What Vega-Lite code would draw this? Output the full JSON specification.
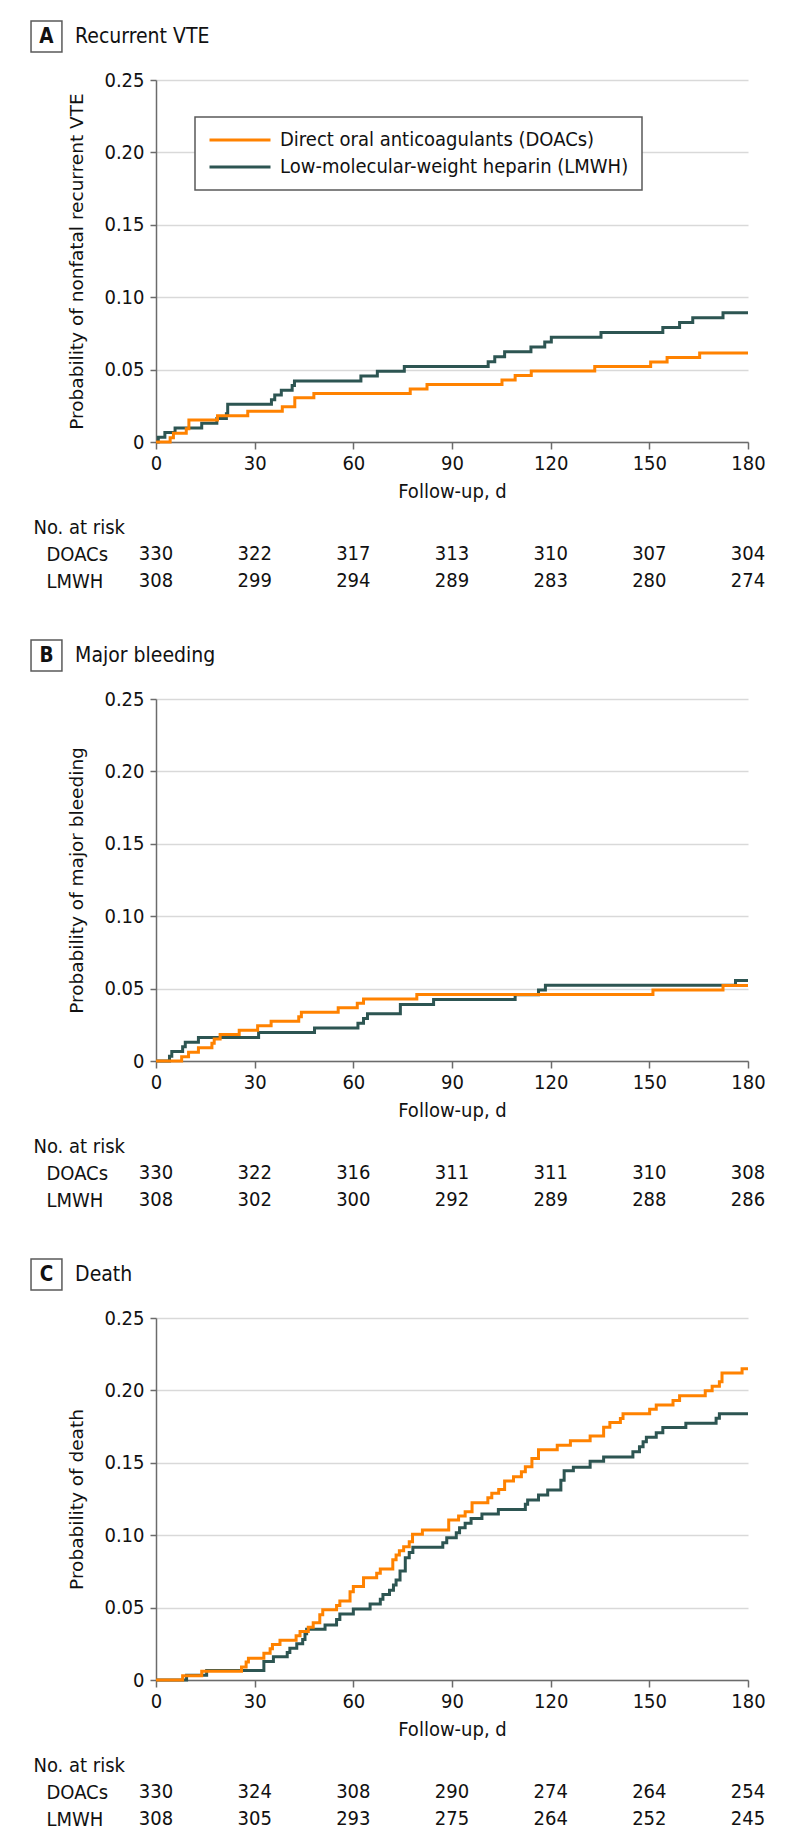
{
  "$schema": "https://vega.github.io/schema/vega-lite/v6.json",
  "background": "white",
  "padding": {"left": 30, "top": 20, "right": 10, "bottom": 10},
  "datasets": {
    "headers": [
      {"panel": "A", "letter": "A", "title": "Recurrent VTE"},
      {"panel": "B", "letter": "B", "title": "Major bleeding"},
      {"panel": "C", "letter": "C", "title": "Death"}
    ],
    "risk": [
      {"panel": "A", "group": "DOACs", "day": 0, "n": 330}, {"panel": "A", "group": "DOACs", "day": 30, "n": 322}, {"panel": "A", "group": "DOACs", "day": 60, "n": 317}, {"panel": "A", "group": "DOACs", "day": 90, "n": 313}, {"panel": "A", "group": "DOACs", "day": 120, "n": 310}, {"panel": "A", "group": "DOACs", "day": 150, "n": 307}, {"panel": "A", "group": "DOACs", "day": 180, "n": 304},
      {"panel": "A", "group": "LMWH", "day": 0, "n": 308}, {"panel": "A", "group": "LMWH", "day": 30, "n": 299}, {"panel": "A", "group": "LMWH", "day": 60, "n": 294}, {"panel": "A", "group": "LMWH", "day": 90, "n": 289}, {"panel": "A", "group": "LMWH", "day": 120, "n": 283}, {"panel": "A", "group": "LMWH", "day": 150, "n": 280}, {"panel": "A", "group": "LMWH", "day": 180, "n": 274},
      {"panel": "B", "group": "DOACs", "day": 0, "n": 330}, {"panel": "B", "group": "DOACs", "day": 30, "n": 322}, {"panel": "B", "group": "DOACs", "day": 60, "n": 316}, {"panel": "B", "group": "DOACs", "day": 90, "n": 311}, {"panel": "B", "group": "DOACs", "day": 120, "n": 311}, {"panel": "B", "group": "DOACs", "day": 150, "n": 310}, {"panel": "B", "group": "DOACs", "day": 180, "n": 308},
      {"panel": "B", "group": "LMWH", "day": 0, "n": 308}, {"panel": "B", "group": "LMWH", "day": 30, "n": 302}, {"panel": "B", "group": "LMWH", "day": 60, "n": 300}, {"panel": "B", "group": "LMWH", "day": 90, "n": 292}, {"panel": "B", "group": "LMWH", "day": 120, "n": 289}, {"panel": "B", "group": "LMWH", "day": 150, "n": 288}, {"panel": "B", "group": "LMWH", "day": 180, "n": 286},
      {"panel": "C", "group": "DOACs", "day": 0, "n": 330}, {"panel": "C", "group": "DOACs", "day": 30, "n": 324}, {"panel": "C", "group": "DOACs", "day": 60, "n": 308}, {"panel": "C", "group": "DOACs", "day": 90, "n": 290}, {"panel": "C", "group": "DOACs", "day": 120, "n": 274}, {"panel": "C", "group": "DOACs", "day": 150, "n": 264}, {"panel": "C", "group": "DOACs", "day": 180, "n": 254},
      {"panel": "C", "group": "LMWH", "day": 0, "n": 308}, {"panel": "C", "group": "LMWH", "day": 30, "n": 305}, {"panel": "C", "group": "LMWH", "day": 60, "n": 293}, {"panel": "C", "group": "LMWH", "day": 90, "n": 275}, {"panel": "C", "group": "LMWH", "day": 120, "n": 264}, {"panel": "C", "group": "LMWH", "day": 150, "n": 252}, {"panel": "C", "group": "LMWH", "day": 180, "n": 245}
    ],
    "km": [
      {"panel": "A", "group": "LMWH", "day": 0, "p": 0}, {"panel": "A", "group": "LMWH", "day": 0.7, "p": 0.0032}, {"panel": "A", "group": "LMWH", "day": 2.7, "p": 0.0065}, {"panel": "A", "group": "LMWH", "day": 5.8, "p": 0.0097}, {"panel": "A", "group": "LMWH", "day": 13.9, "p": 0.013}, {"panel": "A", "group": "LMWH", "day": 18.5, "p": 0.0162}, {"panel": "A", "group": "LMWH", "day": 21.4, "p": 0.0195}, {"panel": "A", "group": "LMWH", "day": 21.8, "p": 0.026}, {"panel": "A", "group": "LMWH", "day": 35.1, "p": 0.0292}, {"panel": "A", "group": "LMWH", "day": 36.1, "p": 0.0325}, {"panel": "A", "group": "LMWH", "day": 38.1, "p": 0.0357}, {"panel": "A", "group": "LMWH", "day": 41.4, "p": 0.039}, {"panel": "A", "group": "LMWH", "day": 42.1, "p": 0.0422}, {"panel": "A", "group": "LMWH", "day": 62.3, "p": 0.0455}, {"panel": "A", "group": "LMWH", "day": 67.3, "p": 0.0488}, {"panel": "A", "group": "LMWH", "day": 75.5, "p": 0.0522}, {"panel": "A", "group": "LMWH", "day": 101, "p": 0.0555}, {"panel": "A", "group": "LMWH", "day": 103, "p": 0.0589}, {"panel": "A", "group": "LMWH", "day": 106, "p": 0.0623}, {"panel": "A", "group": "LMWH", "day": 114, "p": 0.0656}, {"panel": "A", "group": "LMWH", "day": 118.2, "p": 0.069}, {"panel": "A", "group": "LMWH", "day": 120.2, "p": 0.0723}, {"panel": "A", "group": "LMWH", "day": 135.3, "p": 0.0757}, {"panel": "A", "group": "LMWH", "day": 154.1, "p": 0.0791}, {"panel": "A", "group": "LMWH", "day": 159.2, "p": 0.0825}, {"panel": "A", "group": "LMWH", "day": 163.2, "p": 0.0858}, {"panel": "A", "group": "LMWH", "day": 172.4, "p": 0.0892}, {"panel": "A", "group": "LMWH", "day": 180, "p": 0.0892},
      {"panel": "A", "group": "DOACs", "day": 0, "p": 0}, {"panel": "A", "group": "DOACs", "day": 4.3, "p": 0.003}, {"panel": "A", "group": "DOACs", "day": 5.3, "p": 0.0061}, {"panel": "A", "group": "DOACs", "day": 9.2, "p": 0.0091}, {"panel": "A", "group": "DOACs", "day": 10, "p": 0.0152}, {"panel": "A", "group": "DOACs", "day": 18.7, "p": 0.0182}, {"panel": "A", "group": "DOACs", "day": 27.9, "p": 0.0213}, {"panel": "A", "group": "DOACs", "day": 38.4, "p": 0.0244}, {"panel": "A", "group": "DOACs", "day": 42.2, "p": 0.0305}, {"panel": "A", "group": "DOACs", "day": 48, "p": 0.0335}, {"panel": "A", "group": "DOACs", "day": 77.3, "p": 0.0366}, {"panel": "A", "group": "DOACs", "day": 82.4, "p": 0.0397}, {"panel": "A", "group": "DOACs", "day": 105.2, "p": 0.0428}, {"panel": "A", "group": "DOACs", "day": 109.2, "p": 0.0459}, {"panel": "A", "group": "DOACs", "day": 114.1, "p": 0.049}, {"panel": "A", "group": "DOACs", "day": 133.4, "p": 0.0521}, {"panel": "A", "group": "DOACs", "day": 150.4, "p": 0.0552}, {"panel": "A", "group": "DOACs", "day": 155.4, "p": 0.0583}, {"panel": "A", "group": "DOACs", "day": 165.3, "p": 0.0614}, {"panel": "A", "group": "DOACs", "day": 180, "p": 0.0614},
      {"panel": "B", "group": "LMWH", "day": 0, "p": 0}, {"panel": "B", "group": "LMWH", "day": 4.1, "p": 0.0033}, {"panel": "B", "group": "LMWH", "day": 4.8, "p": 0.0065}, {"panel": "B", "group": "LMWH", "day": 8.1, "p": 0.0098}, {"panel": "B", "group": "LMWH", "day": 8.9, "p": 0.013}, {"panel": "B", "group": "LMWH", "day": 12.9, "p": 0.0163}, {"panel": "B", "group": "LMWH", "day": 31.2, "p": 0.0196}, {"panel": "B", "group": "LMWH", "day": 48.2, "p": 0.0228}, {"panel": "B", "group": "LMWH", "day": 61.4, "p": 0.0261}, {"panel": "B", "group": "LMWH", "day": 63.1, "p": 0.0294}, {"panel": "B", "group": "LMWH", "day": 64.3, "p": 0.0326}, {"panel": "B", "group": "LMWH", "day": 74.3, "p": 0.0391}, {"panel": "B", "group": "LMWH", "day": 84.4, "p": 0.0424}, {"panel": "B", "group": "LMWH", "day": 109.2, "p": 0.0457}, {"panel": "B", "group": "LMWH", "day": 116.3, "p": 0.049}, {"panel": "B", "group": "LMWH", "day": 118.4, "p": 0.0523}, {"panel": "B", "group": "LMWH", "day": 176.2, "p": 0.0556}, {"panel": "B", "group": "LMWH", "day": 180, "p": 0.0556},
      {"panel": "B", "group": "DOACs", "day": 0, "p": 0}, {"panel": "B", "group": "DOACs", "day": 7.8, "p": 0.003}, {"panel": "B", "group": "DOACs", "day": 9.9, "p": 0.0061}, {"panel": "B", "group": "DOACs", "day": 12.9, "p": 0.0091}, {"panel": "B", "group": "DOACs", "day": 17.0, "p": 0.0122}, {"panel": "B", "group": "DOACs", "day": 17.7, "p": 0.0152}, {"panel": "B", "group": "DOACs", "day": 19.5, "p": 0.0183}, {"panel": "B", "group": "DOACs", "day": 25.3, "p": 0.0213}, {"panel": "B", "group": "DOACs", "day": 30.9, "p": 0.0244}, {"panel": "B", "group": "DOACs", "day": 35.0, "p": 0.0275}, {"panel": "B", "group": "DOACs", "day": 43.4, "p": 0.0305}, {"panel": "B", "group": "DOACs", "day": 44.2, "p": 0.0336}, {"panel": "B", "group": "DOACs", "day": 55.4, "p": 0.0367}, {"panel": "B", "group": "DOACs", "day": 61.2, "p": 0.0398}, {"panel": "B", "group": "DOACs", "day": 63.1, "p": 0.0428}, {"panel": "B", "group": "DOACs", "day": 79.3, "p": 0.0459}, {"panel": "B", "group": "DOACs", "day": 151.1, "p": 0.049}, {"panel": "B", "group": "DOACs", "day": 172.4, "p": 0.0521}, {"panel": "B", "group": "DOACs", "day": 180, "p": 0.0521},
      {"panel": "C", "group": "LMWH", "day": 0, "p": 0}, {"panel": "C", "group": "LMWH", "day": 9.3, "p": 0.0032}, {"panel": "C", "group": "LMWH", "day": 15.4, "p": 0.0065}, {"panel": "C", "group": "LMWH", "day": 32.8, "p": 0.0127}, {"panel": "C", "group": "LMWH", "day": 35.7, "p": 0.016}, {"panel": "C", "group": "LMWH", "day": 39.9, "p": 0.019}, {"panel": "C", "group": "LMWH", "day": 40.7, "p": 0.022}, {"panel": "C", "group": "LMWH", "day": 42.8, "p": 0.025}, {"panel": "C", "group": "LMWH", "day": 44.6, "p": 0.028}, {"panel": "C", "group": "LMWH", "day": 45.3, "p": 0.032}, {"panel": "C", "group": "LMWH", "day": 45.8, "p": 0.035}, {"panel": "C", "group": "LMWH", "day": 51.4, "p": 0.038}, {"panel": "C", "group": "LMWH", "day": 54.9, "p": 0.0417}, {"panel": "C", "group": "LMWH", "day": 55.9, "p": 0.0455}, {"panel": "C", "group": "LMWH", "day": 60.0, "p": 0.049}, {"panel": "C", "group": "LMWH", "day": 65.1, "p": 0.0525}, {"panel": "C", "group": "LMWH", "day": 68.2, "p": 0.0557}, {"panel": "C", "group": "LMWH", "day": 69.0, "p": 0.059}, {"panel": "C", "group": "LMWH", "day": 71.0, "p": 0.062}, {"panel": "C", "group": "LMWH", "day": 72.2, "p": 0.0656}, {"panel": "C", "group": "LMWH", "day": 73.0, "p": 0.069}, {"panel": "C", "group": "LMWH", "day": 74.2, "p": 0.0753}, {"panel": "C", "group": "LMWH", "day": 75.8, "p": 0.0845}, {"panel": "C", "group": "LMWH", "day": 77.0, "p": 0.088}, {"panel": "C", "group": "LMWH", "day": 78.1, "p": 0.0916}, {"panel": "C", "group": "LMWH", "day": 87.2, "p": 0.0948}, {"panel": "C", "group": "LMWH", "day": 88.4, "p": 0.0983}, {"panel": "C", "group": "LMWH", "day": 91.3, "p": 0.1017}, {"panel": "C", "group": "LMWH", "day": 92.3, "p": 0.1052}, {"panel": "C", "group": "LMWH", "day": 94.0, "p": 0.1082}, {"panel": "C", "group": "LMWH", "day": 95.8, "p": 0.1116}, {"panel": "C", "group": "LMWH", "day": 99.1, "p": 0.1146}, {"panel": "C", "group": "LMWH", "day": 104.1, "p": 0.1178}, {"panel": "C", "group": "LMWH", "day": 112.3, "p": 0.1213}, {"panel": "C", "group": "LMWH", "day": 113.0, "p": 0.1243}, {"panel": "C", "group": "LMWH", "day": 116.3, "p": 0.1277}, {"panel": "C", "group": "LMWH", "day": 119.1, "p": 0.1312}, {"panel": "C", "group": "LMWH", "day": 123.1, "p": 0.138}, {"panel": "C", "group": "LMWH", "day": 124.1, "p": 0.1445}, {"panel": "C", "group": "LMWH", "day": 126.9, "p": 0.147}, {"panel": "C", "group": "LMWH", "day": 132.0, "p": 0.151}, {"panel": "C", "group": "LMWH", "day": 136.1, "p": 0.154}, {"panel": "C", "group": "LMWH", "day": 145.0, "p": 0.1576}, {"panel": "C", "group": "LMWH", "day": 147.0, "p": 0.161}, {"panel": "C", "group": "LMWH", "day": 148.1, "p": 0.1646}, {"panel": "C", "group": "LMWH", "day": 149.1, "p": 0.1676}, {"panel": "C", "group": "LMWH", "day": 152.1, "p": 0.1708}, {"panel": "C", "group": "LMWH", "day": 154.1, "p": 0.1743}, {"panel": "C", "group": "LMWH", "day": 161.1, "p": 0.1773}, {"panel": "C", "group": "LMWH", "day": 170.3, "p": 0.1808}, {"panel": "C", "group": "LMWH", "day": 171.3, "p": 0.1838}, {"panel": "C", "group": "LMWH", "day": 180, "p": 0.1838},
      {"panel": "C", "group": "DOACs", "day": 0, "p": 0}, {"panel": "C", "group": "DOACs", "day": 8.1, "p": 0.003}, {"panel": "C", "group": "DOACs", "day": 13.9, "p": 0.006}, {"panel": "C", "group": "DOACs", "day": 26.0, "p": 0.009}, {"panel": "C", "group": "DOACs", "day": 27.4, "p": 0.0125}, {"panel": "C", "group": "DOACs", "day": 28.1, "p": 0.015}, {"panel": "C", "group": "DOACs", "day": 32.8, "p": 0.0185}, {"panel": "C", "group": "DOACs", "day": 34.7, "p": 0.0215}, {"panel": "C", "group": "DOACs", "day": 35.4, "p": 0.0245}, {"panel": "C", "group": "DOACs", "day": 37.7, "p": 0.0275}, {"panel": "C", "group": "DOACs", "day": 42.6, "p": 0.0305}, {"panel": "C", "group": "DOACs", "day": 43.8, "p": 0.0335}, {"panel": "C", "group": "DOACs", "day": 46.3, "p": 0.0365}, {"panel": "C", "group": "DOACs", "day": 47.8, "p": 0.0395}, {"panel": "C", "group": "DOACs", "day": 49.8, "p": 0.045}, {"panel": "C", "group": "DOACs", "day": 50.7, "p": 0.0485}, {"panel": "C", "group": "DOACs", "day": 54.9, "p": 0.0515}, {"panel": "C", "group": "DOACs", "day": 55.9, "p": 0.0545}, {"panel": "C", "group": "DOACs", "day": 59.0, "p": 0.061}, {"panel": "C", "group": "DOACs", "day": 60.0, "p": 0.0645}, {"panel": "C", "group": "DOACs", "day": 63.1, "p": 0.0707}, {"panel": "C", "group": "DOACs", "day": 67.1, "p": 0.0737}, {"panel": "C", "group": "DOACs", "day": 68.2, "p": 0.0767}, {"panel": "C", "group": "DOACs", "day": 72.0, "p": 0.083}, {"panel": "C", "group": "DOACs", "day": 73.0, "p": 0.0863}, {"panel": "C", "group": "DOACs", "day": 74.0, "p": 0.0893}, {"panel": "C", "group": "DOACs", "day": 75.3, "p": 0.092}, {"panel": "C", "group": "DOACs", "day": 77.0, "p": 0.0955}, {"panel": "C", "group": "DOACs", "day": 78.0, "p": 0.1006}, {"panel": "C", "group": "DOACs", "day": 81.0, "p": 0.1036}, {"panel": "C", "group": "DOACs", "day": 89.0, "p": 0.1105}, {"panel": "C", "group": "DOACs", "day": 92.0, "p": 0.1132}, {"panel": "C", "group": "DOACs", "day": 94.0, "p": 0.1162}, {"panel": "C", "group": "DOACs", "day": 96.1, "p": 0.1224}, {"panel": "C", "group": "DOACs", "day": 100.9, "p": 0.1259}, {"panel": "C", "group": "DOACs", "day": 102.1, "p": 0.1289}, {"panel": "C", "group": "DOACs", "day": 104.2, "p": 0.1316}, {"panel": "C", "group": "DOACs", "day": 106.0, "p": 0.1374}, {"panel": "C", "group": "DOACs", "day": 108.7, "p": 0.1404}, {"panel": "C", "group": "DOACs", "day": 111.1, "p": 0.1438}, {"panel": "C", "group": "DOACs", "day": 112.3, "p": 0.1472}, {"panel": "C", "group": "DOACs", "day": 114.3, "p": 0.153}, {"panel": "C", "group": "DOACs", "day": 116.3, "p": 0.159}, {"panel": "C", "group": "DOACs", "day": 122.0, "p": 0.1622}, {"panel": "C", "group": "DOACs", "day": 126.0, "p": 0.1653}, {"panel": "C", "group": "DOACs", "day": 132.0, "p": 0.1685}, {"panel": "C", "group": "DOACs", "day": 136.1, "p": 0.1745}, {"panel": "C", "group": "DOACs", "day": 138.0, "p": 0.1778}, {"panel": "C", "group": "DOACs", "day": 141.2, "p": 0.1806}, {"panel": "C", "group": "DOACs", "day": 142.0, "p": 0.1838}, {"panel": "C", "group": "DOACs", "day": 150.1, "p": 0.187}, {"panel": "C", "group": "DOACs", "day": 152.1, "p": 0.19}, {"panel": "C", "group": "DOACs", "day": 157.2, "p": 0.193}, {"panel": "C", "group": "DOACs", "day": 159.2, "p": 0.1963}, {"panel": "C", "group": "DOACs", "day": 167.0, "p": 0.1998}, {"panel": "C", "group": "DOACs", "day": 169.1, "p": 0.2028}, {"panel": "C", "group": "DOACs", "day": 171.3, "p": 0.206}, {"panel": "C", "group": "DOACs", "day": 172.1, "p": 0.212}, {"panel": "C", "group": "DOACs", "day": 178.2, "p": 0.215}, {"panel": "C", "group": "DOACs", "day": 180, "p": 0.215}
    ]
  },
  "bounds": "flush",
  "spacing": 112,
  "resolve": {"scale": {"color": "independent"}, "legend": {"color": "independent"}},
  "vconcat": [
    {
      "width": 592,
      "height": 362,
      "layer": [
        {
          "data": {"name": "km"},
          "transform": [{"filter": "datum.panel === 'A'"}],
          "mark": {"type": "line", "interpolate": "step-after", "strokeWidth": 3},
          "encoding": {
            "x": {"field": "day", "type": "quantitative", "scale": {"domain": [0, 180], "nice": false}, "axis": {"values": [0, 30, 60, 90, 120, 150, 180], "title": "Follow-up, d", "tickSize": 7, "labelPadding": 4, "titlePadding": 8, "grid": false, "labelFlush": false}},
            "y": {"field": "p", "type": "quantitative", "scale": {"domain": [0, 0.25], "nice": false}, "axis": {"values": [0, 0.05, 0.1, 0.15, 0.2, 0.25], "labelExpr": "datum.value === 0 ? '0' : format(datum.value, '.2f')", "title": "Probability of nonfatal recurrent VTE", "titleFont": "DejaVu Sans", "titleFontSize": 18.5, "titleX": -80, "titleY": 181, "titleAngle": -90, "titleAlign": "center", "titleBaseline": "middle", "tickSize": 6, "labelPadding": 6, "grid": true, "gridColor": "#d9d9d9", "gridWidth": 1.5, "labelFlush": false}},
            "color": {"field": "group", "type": "nominal", "scale": {"domain": ["DOACs", "LMWH"], "range": ["#ff8200", "#2d5552"]}, "legend": {"orient": "none", "legendX": 39, "legendY": 37, "title": null, "symbolType": "stroke", "symbolSize": 3721, "symbolStrokeWidth": 3, "clipHeight": 20, "rowPadding": 7, "labelFontSize": 20, "labelColor": "#111", "labelOffset": 8, "padding": 13, "strokeColor": "#5a5a5a", "fillColor": "#ffffff", "labelLimit": 600, "labelExpr": "datum.label === 'DOACs' ? 'Direct oral anticoagulants (DOACs)' : 'Low-molecular-weight heparin (LMWH)'"}}
          }
        },
        {
          "data": {"name": "headers"},
          "transform": [{"filter": "datum.panel === 'A'"}],
          "mark": {"type": "rect", "fill": "#ffffff", "stroke": "#5a5a5a", "strokeWidth": 1.5},
          "encoding": {
            "x": {"datum": -38.0, "type": "quantitative", "scale": {"domain": [0, 180], "nice": false}},
            "x2": {"datum": -28.6},
            "y": {"datum": 0.2907, "type": "quantitative", "scale": {"domain": [0, 0.25], "nice": false}},
            "y2": {"datum": 0.2693}
          }
        },
        {
          "data": {"name": "headers"},
          "transform": [{"filter": "datum.panel === 'A'"}],
          "mark": {"type": "text", "fontSize": 20.5, "fontWeight": "bold", "align": "center", "baseline": "middle", "color": "#111"},
          "encoding": {
            "x": {"datum": -33.3, "type": "quantitative", "scale": {"domain": [0, 180], "nice": false}},
            "y": {"datum": 0.28, "type": "quantitative", "scale": {"domain": [0, 0.25], "nice": false}},
            "text": {"field": "letter"}
          }
        },
        {
          "data": {"name": "headers"},
          "transform": [{"filter": "datum.panel === 'A'"}],
          "mark": {"type": "text", "fontSize": 21, "align": "left", "baseline": "middle", "color": "#111"},
          "encoding": {
            "x": {"datum": -24.6, "type": "quantitative", "scale": {"domain": [0, 180], "nice": false}},
            "y": {"datum": 0.28, "type": "quantitative", "scale": {"domain": [0, 0.25], "nice": false}},
            "text": {"field": "title"}
          }
        }
      ]
    },
    {
      "width": 592,
      "height": 33,
      "data": {"name": "risk"},
      "transform": [{"filter": "datum.panel === 'A'"}],
      "mark": {"type": "text", "fontSize": 20, "align": "center", "baseline": "middle", "color": "#111"},
      "encoding": {
        "x": {"field": "day", "type": "quantitative", "scale": {"domain": [0, 180], "nice": false}, "axis": null},
        "y": {"field": "group", "type": "nominal", "scale": {"type": "point", "domain": ["DOACs", "LMWH"], "padding": 0.1111, "align": 0}, "axis": {"title": "No. at risk", "titleAngle": 0, "titleAlign": "left", "titleBaseline": "middle", "titleX": -123, "titleY": -27, "domain": false, "ticks": false, "grid": false, "labelAlign": "left", "labelBaseline": "middle", "labelPadding": 110}},
        "text": {"field": "n"}
      }
    },
    {
      "width": 592,
      "height": 362,
      "layer": [
        {
          "data": {"name": "km"},
          "transform": [{"filter": "datum.panel === 'B'"}],
          "mark": {"type": "line", "interpolate": "step-after", "strokeWidth": 3},
          "encoding": {
            "x": {"field": "day", "type": "quantitative", "scale": {"domain": [0, 180], "nice": false}, "axis": {"values": [0, 30, 60, 90, 120, 150, 180], "title": "Follow-up, d", "tickSize": 7, "labelPadding": 4, "titlePadding": 8, "grid": false, "labelFlush": false}},
            "y": {"field": "p", "type": "quantitative", "scale": {"domain": [0, 0.25], "nice": false}, "axis": {"values": [0, 0.05, 0.1, 0.15, 0.2, 0.25], "labelExpr": "datum.value === 0 ? '0' : format(datum.value, '.2f')", "title": "Probability of major bleeding", "titleFont": "DejaVu Sans", "titleFontSize": 18.5, "titleX": -80, "titleY": 181, "titleAngle": -90, "titleAlign": "center", "titleBaseline": "middle", "tickSize": 6, "labelPadding": 6, "grid": true, "gridColor": "#d9d9d9", "gridWidth": 1.5, "labelFlush": false}},
            "color": {"field": "group", "type": "nominal", "scale": {"domain": ["DOACs", "LMWH"], "range": ["#ff8200", "#2d5552"]}, "legend": null}
          }
        },
        {
          "data": {"name": "headers"},
          "transform": [{"filter": "datum.panel === 'B'"}],
          "mark": {"type": "rect", "fill": "#ffffff", "stroke": "#5a5a5a", "strokeWidth": 1.5},
          "encoding": {
            "x": {"datum": -38.0, "type": "quantitative", "scale": {"domain": [0, 180], "nice": false}},
            "x2": {"datum": -28.6},
            "y": {"datum": 0.2907, "type": "quantitative", "scale": {"domain": [0, 0.25], "nice": false}},
            "y2": {"datum": 0.2693}
          }
        },
        {
          "data": {"name": "headers"},
          "transform": [{"filter": "datum.panel === 'B'"}],
          "mark": {"type": "text", "fontSize": 20.5, "fontWeight": "bold", "align": "center", "baseline": "middle", "color": "#111"},
          "encoding": {
            "x": {"datum": -33.3, "type": "quantitative", "scale": {"domain": [0, 180], "nice": false}},
            "y": {"datum": 0.28, "type": "quantitative", "scale": {"domain": [0, 0.25], "nice": false}},
            "text": {"field": "letter"}
          }
        },
        {
          "data": {"name": "headers"},
          "transform": [{"filter": "datum.panel === 'B'"}],
          "mark": {"type": "text", "fontSize": 21, "align": "left", "baseline": "middle", "color": "#111"},
          "encoding": {
            "x": {"datum": -24.6, "type": "quantitative", "scale": {"domain": [0, 180], "nice": false}},
            "y": {"datum": 0.28, "type": "quantitative", "scale": {"domain": [0, 0.25], "nice": false}},
            "text": {"field": "title"}
          }
        }
      ]
    },
    {
      "width": 592,
      "height": 33,
      "data": {"name": "risk"},
      "transform": [{"filter": "datum.panel === 'B'"}],
      "mark": {"type": "text", "fontSize": 20, "align": "center", "baseline": "middle", "color": "#111"},
      "encoding": {
        "x": {"field": "day", "type": "quantitative", "scale": {"domain": [0, 180], "nice": false}, "axis": null},
        "y": {"field": "group", "type": "nominal", "scale": {"type": "point", "domain": ["DOACs", "LMWH"], "padding": 0.1111, "align": 0}, "axis": {"title": "No. at risk", "titleAngle": 0, "titleAlign": "left", "titleBaseline": "middle", "titleX": -123, "titleY": -27, "domain": false, "ticks": false, "grid": false, "labelAlign": "left", "labelBaseline": "middle", "labelPadding": 110}},
        "text": {"field": "n"}
      }
    },
    {
      "width": 592,
      "height": 362,
      "layer": [
        {
          "data": {"name": "km"},
          "transform": [{"filter": "datum.panel === 'C'"}],
          "mark": {"type": "line", "interpolate": "step-after", "strokeWidth": 3},
          "encoding": {
            "x": {"field": "day", "type": "quantitative", "scale": {"domain": [0, 180], "nice": false}, "axis": {"values": [0, 30, 60, 90, 120, 150, 180], "title": "Follow-up, d", "tickSize": 7, "labelPadding": 4, "titlePadding": 8, "grid": false, "labelFlush": false}},
            "y": {"field": "p", "type": "quantitative", "scale": {"domain": [0, 0.25], "nice": false}, "axis": {"values": [0, 0.05, 0.1, 0.15, 0.2, 0.25], "labelExpr": "datum.value === 0 ? '0' : format(datum.value, '.2f')", "title": "Probability of death", "titleFont": "DejaVu Sans", "titleFontSize": 18.5, "titleX": -80, "titleY": 181, "titleAngle": -90, "titleAlign": "center", "titleBaseline": "middle", "tickSize": 6, "labelPadding": 6, "grid": true, "gridColor": "#d9d9d9", "gridWidth": 1.5, "labelFlush": false}},
            "color": {"field": "group", "type": "nominal", "scale": {"domain": ["DOACs", "LMWH"], "range": ["#ff8200", "#2d5552"]}, "legend": null}
          }
        },
        {
          "data": {"name": "headers"},
          "transform": [{"filter": "datum.panel === 'C'"}],
          "mark": {"type": "rect", "fill": "#ffffff", "stroke": "#5a5a5a", "strokeWidth": 1.5},
          "encoding": {
            "x": {"datum": -38.0, "type": "quantitative", "scale": {"domain": [0, 180], "nice": false}},
            "x2": {"datum": -28.6},
            "y": {"datum": 0.2907, "type": "quantitative", "scale": {"domain": [0, 0.25], "nice": false}},
            "y2": {"datum": 0.2693}
          }
        },
        {
          "data": {"name": "headers"},
          "transform": [{"filter": "datum.panel === 'C'"}],
          "mark": {"type": "text", "fontSize": 20.5, "fontWeight": "bold", "align": "center", "baseline": "middle", "color": "#111"},
          "encoding": {
            "x": {"datum": -33.3, "type": "quantitative", "scale": {"domain": [0, 180], "nice": false}},
            "y": {"datum": 0.28, "type": "quantitative", "scale": {"domain": [0, 0.25], "nice": false}},
            "text": {"field": "letter"}
          }
        },
        {
          "data": {"name": "headers"},
          "transform": [{"filter": "datum.panel === 'C'"}],
          "mark": {"type": "text", "fontSize": 21, "align": "left", "baseline": "middle", "color": "#111"},
          "encoding": {
            "x": {"datum": -24.6, "type": "quantitative", "scale": {"domain": [0, 180], "nice": false}},
            "y": {"datum": 0.28, "type": "quantitative", "scale": {"domain": [0, 0.25], "nice": false}},
            "text": {"field": "title"}
          }
        }
      ]
    },
    {
      "width": 592,
      "height": 33,
      "data": {"name": "risk"},
      "transform": [{"filter": "datum.panel === 'C'"}],
      "mark": {"type": "text", "fontSize": 20, "align": "center", "baseline": "middle", "color": "#111"},
      "encoding": {
        "x": {"field": "day", "type": "quantitative", "scale": {"domain": [0, 180], "nice": false}, "axis": null},
        "y": {"field": "group", "type": "nominal", "scale": {"type": "point", "domain": ["DOACs", "LMWH"], "padding": 0.1111, "align": 0}, "axis": {"title": "No. at risk", "titleAngle": 0, "titleAlign": "left", "titleBaseline": "middle", "titleX": -123, "titleY": -27, "domain": false, "ticks": false, "grid": false, "labelAlign": "left", "labelBaseline": "middle", "labelPadding": 110}},
        "text": {"field": "n"}
      }
    }
  ],
  "config": {
    "view": {"stroke": null},
    "font": "DejaVu Sans Condensed, Liberation Sans Narrow, sans-serif",
    "text": {"font": "DejaVu Sans Condensed, Liberation Sans Narrow, sans-serif"},
    "axis": {
      "labelFont": "DejaVu Sans Condensed, Liberation Sans Narrow, sans-serif",
      "labelFontSize": 20,
      "labelColor": "#111",
      "titleFont": "DejaVu Sans Condensed, Liberation Sans Narrow, sans-serif",
      "titleFontSize": 20,
      "titleFontWeight": "normal",
      "titleColor": "#111",
      "domainColor": "#6b6b6b",
      "domainWidth": 1.5,
      "tickColor": "#6b6b6b",
      "tickWidth": 1.5
    },
    "legend": {
      "labelFont": "DejaVu Sans Condensed, Liberation Sans Narrow, sans-serif",
      "strokeWidth": 1.5
    }
  }
}
